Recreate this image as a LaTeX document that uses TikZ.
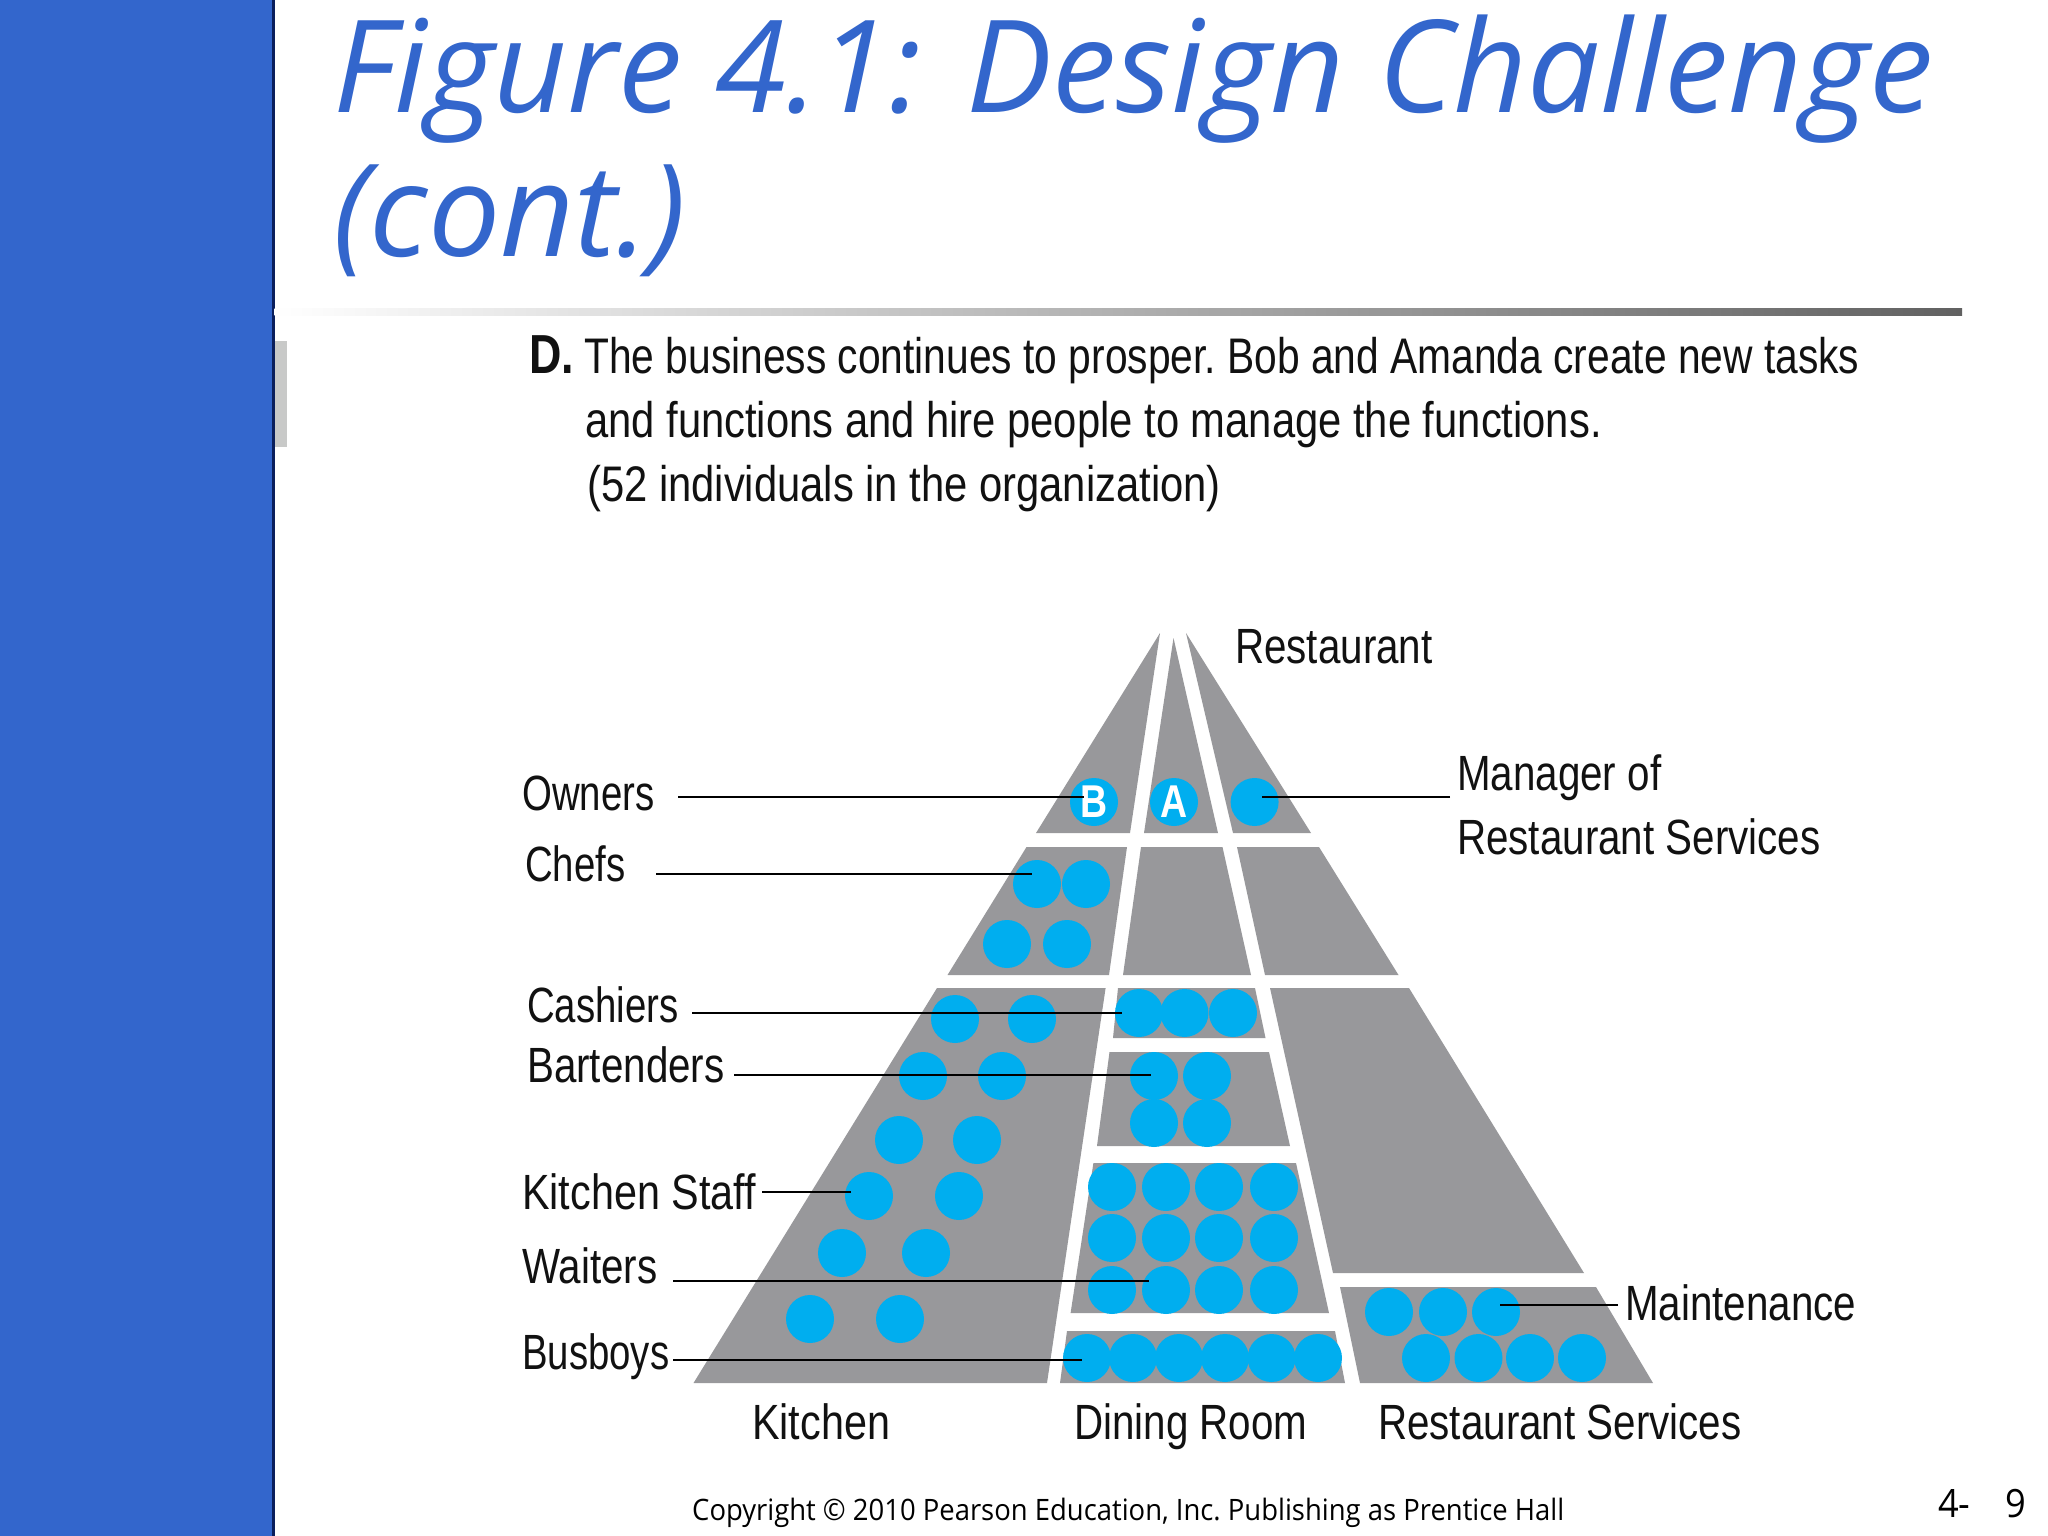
\documentclass[tikz,border=0pt]{standalone}
\usepackage{fontspec}
\setmainfont{Liberation Sans}
\newfontfamily\cond[FakeStretch=0.815]{Liberation Sans}
\newfontfamily\condn[FakeStretch=0.775]{Liberation Sans}
\newfontfamily\condw[FakeStretch=0.835]{Liberation Sans}
\newfontfamily\titlefont{Open Sans}
\newfontfamily\footfont[FakeStretch=0.93]{Open Sans}
\definecolor{band}{HTML}{3366CC}
\definecolor{bandedge}{HTML}{0A1F5C}
\definecolor{wedge}{HTML}{98989B}
\definecolor{dot}{HTML}{00AEEF}
\definecolor{tabgrey}{HTML}{C8C9C8}
\definecolor{ink}{HTML}{111111}
\tikzset{
 seg/.style={fill=wedge,draw=none},
 person/.style={circle,fill=dot,draw=none,minimum size=48pt,inner sep=0pt,text=white,font=\cond\bfseries\fontsize{46}{46}\selectfont},
 lbl/.style={anchor=base west,inner sep=0pt,text=ink,font=\frenchspacing\cond\fontsize{49.5}{49.5}\selectfont},
 lbln/.style={lbl,font=\condn\fontsize{49.5}{49.5}\selectfont},
 lblw/.style={lbl,font=\frenchspacing\condw\fontsize{49.5}{49.5}\selectfont},
 body/.style={anchor=base west,inner sep=0pt,text=ink,font=\frenchspacing\cond\fontsize{50}{50}\selectfont},
 bodyw/.style={body,font=\frenchspacing\condw\fontsize{50}{50}\selectfont},
 ttl/.style={anchor=base west,inner sep=0pt,text=band,font=\titlefont\itshape\fontsize{128.5}{128.5}\selectfont},
 foot/.style={anchor=base west,inner sep=0pt,text=black,font=\frenchspacing\footfont\fontsize{29.5}{29.5}\selectfont},
 leader/.style={draw=black,line width=2.4pt}
}
\begin{document}
\begin{tikzpicture}[x=1pt,y=-1pt]
\useasboundingbox (0,0) rectangle (2048,1536);
\fill[white] (0,0) rectangle (2048,1536);
% slide furniture
\fill[band] (0,0) rectangle (272,1536);
\fill[bandedge] (272,0) rectangle (274.5,1536);
\fill[tabgrey] (274.5,341) rectangle (287,447);
\shade[left color=white,right color=black!62] (274.5,308) rectangle (1962,315);
\node[ttl] (title1) at (333,113) {Figure 4.1: Design Challenge};
\node[ttl] (title2) at (333,256) {(cont.)};
% text
\node[body,font=\cond\bfseries\fontsize{55}{55}\selectfont] (d) at (529,373) {D.};
\node[body] (t1) at (584,373) {The business continues to prosper. Bob and Amanda create new tasks};
\node[bodyw] (t2) at (585,437) {and functions and hire people to manage the functions.};
\node[bodyw] (t3) at (587,501) {(52 individuals in the organization)};
% pyramid
\fill[seg] (1160,633) -- (1130,833) -- (1036,833) -- cycle;
\fill[seg] (1173.5,638) -- (1218,833) -- (1144,833) -- cycle;
\fill[seg] (1186,633) -- (1311,833) -- (1233,833) -- cycle;
\fill[seg] (1026.5,847) -- (1127,847) -- (1109,975) -- (947.5,975) -- cycle;
\fill[seg] (1141,847) -- (1222.5,847) -- (1251,975) -- (1123,975) -- cycle;
\fill[seg] (1237,847) -- (1319,847) -- (1398.5,975) -- (1265,975) -- cycle;
\fill[seg] (937,988) -- (1105.6,988) -- (1047,1383) -- (693.5,1383) -- cycle;
\fill[seg] (1118,988) -- (1255,988) -- (1265.5,1038) -- (1113,1038) -- cycle;
\fill[seg] (1109.5,1052) -- (1269,1052) -- (1290,1146) -- (1097,1146) -- cycle;
\fill[seg] (1093.4,1163) -- (1296,1163) -- (1329,1313) -- (1070.6,1313) -- cycle;
\fill[seg] (1067,1331) -- (1335,1331) -- (1345,1383) -- (1060,1383) -- cycle;
\fill[seg] (1270,988) -- (1409,988) -- (1584,1273) -- (1333,1273) -- cycle;
\fill[seg] (1340,1287) -- (1596,1287) -- (1653,1383) -- (1360,1383) -- cycle;
% people
\node[person] (b) at (1094,802) {B};
\node[person] (a) at (1174,802) {A};
\node[person] (mgr) at (1254.6,802) {};
\foreach \n/\x/\y in {c1/1037/884,c2/1086/884,c3/1007/944,c4/1067/944,
 k1/955/1019,k2/1032/1019,k3/923/1076,k4/1002/1076,k5/899/1140,k6/977/1140,
 k7/869/1196,k8/959/1196,k9/842/1253,k10/926/1253,k11/810/1319,k12/900/1319,
 ca1/1139/1013,ca2/1184.5/1013,ca3/1233/1013,
 ba1/1154/1076,ba2/1207/1076,ba3/1154/1123,ba4/1207/1123,
 w1/1112/1187,w2/1166/1187,w3/1219/1187,w4/1274/1187,
 w5/1112/1238,w6/1166/1238,w7/1219/1238,w8/1274/1238,
 w9/1112/1290,w10/1166/1290,w11/1219/1290,w12/1274/1290,
 bu1/1087/1358,bu2/1133/1358,bu3/1179/1358,bu4/1225/1358,bu5/1271.6/1358,bu6/1318/1358,
 m1/1389/1312,m2/1443/1312,m3/1496/1312,m4/1426/1358,m5/1478.5/1358,m6/1530/1358,m7/1582/1358}
 {\node[person] (\n) at (\x,\y) {};}
% labels
\node[lbln] (owners) at (522,810) {Owners};
\node[lbln] (chefs) at (525,881) {Chefs};
\node[lbln] (cashiers) at (527,1022) {Cashiers};
\node[lbl] (bartenders) at (527,1082) {Bartenders};
\node[lblw] (kstaff) at (522,1209) {Kitchen Staff};
\node[lbl] (waiters) at (522,1283) {Waiters};
\node[lbln] (busboys) at (522,1369) {Busboys};
\node[lblw] (kitchen) at (752,1439) {Kitchen};
\node[lbl] (dining) at (1074,1439) {Dining Room};
\node[lbl] (rserv) at (1378,1439) {Restaurant Services};
\node[lbl] (maint) at (1625,1320) {Maintenance};
\node[lbl] (mgr1) at (1457,790) {Manager of};
\node[lbl] (mgr2) at (1457,854) {Restaurant Services};
\node[lbl] (rest) at (1235,663) {Restaurant};
% leaders
\coordinate (o0) at (678,797);  \coordinate (o1) at (1084,797);
\coordinate (e0) at (656,874);  \coordinate (e1) at (1032,874);
\coordinate (h0) at (692,1013); \coordinate (h1) at (1122,1013);
\coordinate (r0) at (734,1075); \coordinate (r1) at (1151,1075);
\coordinate (s0) at (762,1192); \coordinate (s1) at (851,1192);
\coordinate (w0) at (673,1281); \coordinate (w1e) at (1149,1281);
\coordinate (y0) at (673,1360); \coordinate (y1) at (1082,1360);
\coordinate (n0) at (1618,1305);\coordinate (n1) at (1500,1305);
\coordinate (g0) at (1450,797); \coordinate (g1) at (1262,797);
\draw[leader] (o0) -- (o1);
\draw[leader] (e0) -- (e1);
\draw[leader] (h0) -- (h1);
\draw[leader] (r0) -- (r1);
\draw[leader] (s0) -- (s1);
\draw[leader] (w0) -- (w1e);
\draw[leader] (y0) -- (y1);
\draw[leader] (n0) -- (n1);
\draw[leader] (g0) -- (g1);
% footer
\node[foot] (copy) at (692,1520) {Copyright © 2010 Pearson Education, Inc. Publishing as Prentice Hall};
\node[foot,font=\footfont\fontsize{39}{39}\selectfont] (pg) at (1938,1517) {4-};
\node[foot,font=\footfont\fontsize{39}{39}\selectfont] (pg2) at (2005,1517) {9};
\end{tikzpicture}
\end{document}
